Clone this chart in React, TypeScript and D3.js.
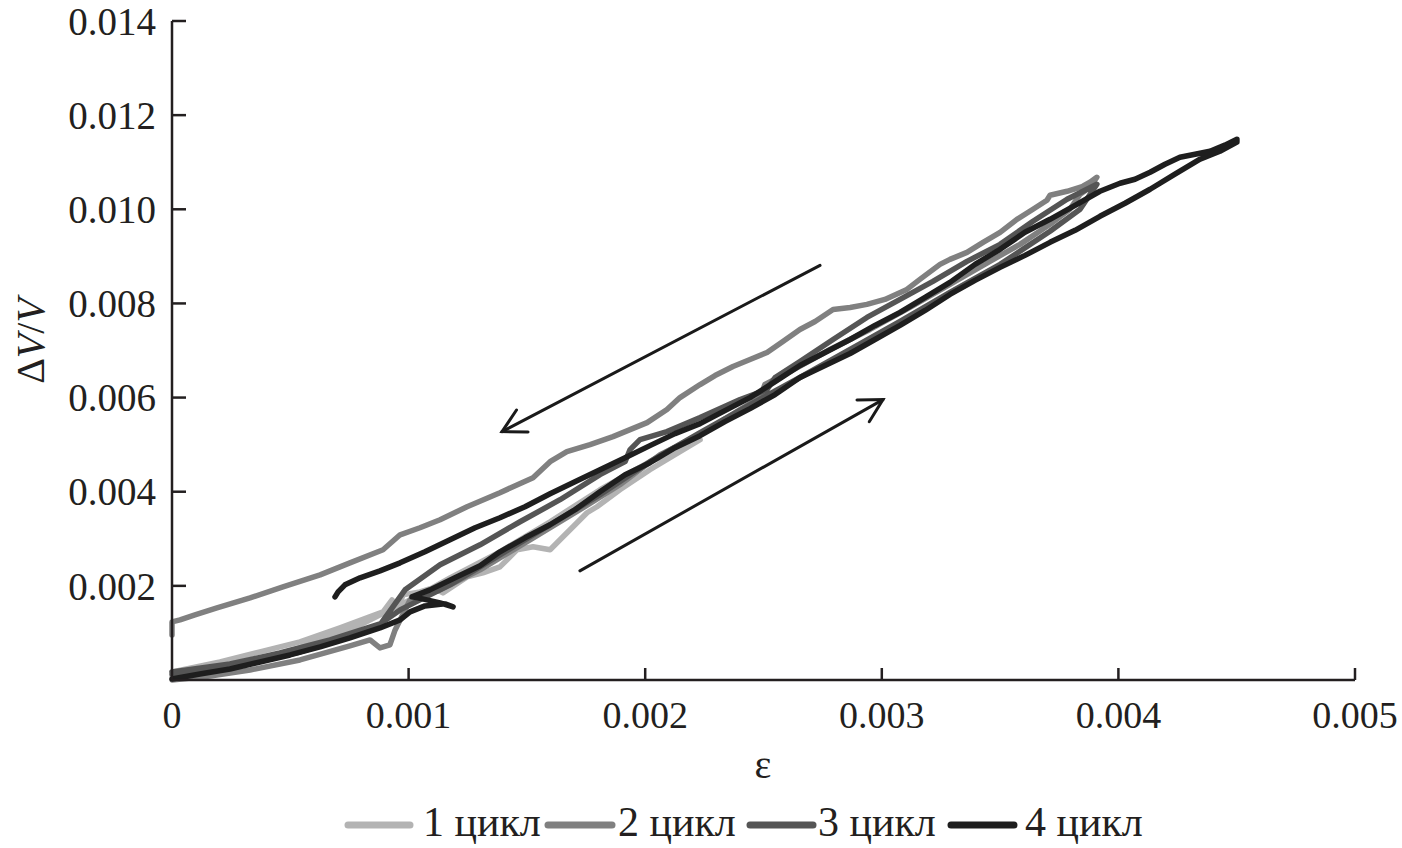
import React from "react";
import * as d3 from "d3";

// All values in units of 10^-3: [ε, ΔV/V]
const cycle1: [number, number][] = [
  [0, 0.17], [0.203, 0.383], [0.372, 0.596], [0.541, 0.809], [0.71, 1.106], [0.892, 1.447],
  [0.93, 1.702], [0.955, 1.489], [0.976, 1.809], [1.048, 1.872], [1.103, 1.957], [1.145, 1.851],
  [1.247, 2.191], [1.314, 2.277], [1.386, 2.404], [1.458, 2.766], [1.526, 2.83], [1.598, 2.766],
  [1.64, 2.979], [1.695, 3.255], [1.754, 3.553], [1.796, 3.681], [1.893, 4.043], [2.02, 4.468],
  [2.147, 4.851], [2.232, 5.106],
  [2.189, 5.0], [2.02, 4.638], [1.809, 4.043], [1.598, 3.362], [1.386, 2.723], [1.175, 2.17],
  [1.048, 1.809], [0.964, 1.596], [0.752, 1.064], [0.541, 0.681], [0.33, 0.383], [0.118, 0.17], [0, 0.085],
];

const cycle2: [number, number][] = [
  [0, 0], [0.161, 0.085], [0.33, 0.213], [0.541, 0.426], [0.752, 0.723], [0.837, 0.851],
  [0.879, 0.681], [0.921, 0.745], [0.943, 1.064], [0.985, 1.489], [1.006, 1.702], [1.133, 1.915],
  [1.302, 2.34], [1.513, 2.979], [1.724, 3.617], [1.893, 4.149], [2.063, 4.787], [2.232, 5.213],
  [2.401, 5.745], [2.485, 6.0], [2.506, 6.277], [2.612, 6.553], [2.781, 7.021], [2.95, 7.447],
  [3.119, 7.915], [3.288, 8.404], [3.457, 8.894], [3.584, 9.255], [3.711, 9.681], [3.795, 10.0],
  [3.838, 10.319], [3.88, 10.468], [3.909, 10.681],
  [3.88, 10.574], [3.85, 10.489], [3.783, 10.383], [3.711, 10.298], [3.698, 10.191], [3.639, 10.0],
  [3.571, 9.787], [3.5, 9.511], [3.428, 9.298], [3.36, 9.085], [3.288, 8.936], [3.246, 8.83],
  [3.161, 8.511], [3.106, 8.298], [3.013, 8.085], [2.937, 7.979], [2.866, 7.915], [2.794, 7.872],
  [2.718, 7.617], [2.654, 7.447], [2.582, 7.191], [2.515, 6.957], [2.443, 6.809], [2.371, 6.66],
  [2.295, 6.468], [2.232, 6.277], [2.147, 6.0], [2.092, 5.745], [2.008, 5.468], [1.936, 5.319],
  [1.864, 5.17], [1.767, 5.0], [1.669, 4.851], [1.598, 4.638], [1.526, 4.298], [1.386, 3.979],
  [1.247, 3.681], [1.133, 3.404], [1.048, 3.234], [0.964, 3.085], [0.892, 2.766], [0.752, 2.489],
  [0.626, 2.234], [0.469, 1.979], [0.33, 1.745], [0.19, 1.532], [0.097, 1.383], [0.034, 1.277],
  [0, 1.234], [0, 0.957],
];

const cycle3: [number, number][] = [
  [0, 0.17], [0.245, 0.34], [0.456, 0.574], [0.668, 0.851], [0.879, 1.191], [0.964, 1.489],
  [1.048, 1.702], [1.175, 2.021], [1.386, 2.66], [1.598, 3.298], [1.809, 3.936], [2.02, 4.638],
  [2.232, 5.255], [2.443, 5.851], [2.654, 6.426], [2.866, 7.021], [3.077, 7.617], [3.288, 8.234],
  [3.5, 8.83], [3.711, 9.532], [3.838, 10.0], [3.909, 10.532],
  [3.783, 10.213], [3.639, 9.745], [3.5, 9.255], [3.36, 8.894], [3.216, 8.468], [3.077, 8.085],
  [2.937, 7.702], [2.794, 7.234], [2.654, 6.766], [2.549, 6.426], [2.515, 6.17], [2.401, 5.957],
  [2.232, 5.574], [2.092, 5.277], [1.978, 5.106], [1.936, 4.894], [1.915, 4.638], [1.809, 4.362],
  [1.64, 3.83], [1.471, 3.362], [1.302, 2.872], [1.133, 2.447], [0.985, 1.915], [0.879, 1.17],
  [0.71, 0.851], [0.541, 0.596], [0.33, 0.362], [0.118, 0.17], [0, 0.128],
];

const cycle4: [number, number][] = [
  [0, 0.02], [0.118, 0.128], [0.245, 0.234], [0.372, 0.383], [0.499, 0.532], [0.626, 0.702],
  [0.752, 0.894], [0.879, 1.106], [0.964, 1.277], [1.006, 1.447], [1.069, 1.574], [1.154, 1.617],
  [1.188, 1.553], [1.133, 1.638], [1.04, 1.745], [1.014, 1.766], [1.09, 1.915], [1.196, 2.17],
  [1.302, 2.426], [1.386, 2.723], [1.492, 3.021], [1.598, 3.298], [1.703, 3.617], [1.809, 4.0],
  [1.915, 4.362], [2.02, 4.617], [2.126, 4.936], [2.232, 5.191], [2.337, 5.489], [2.443, 5.766],
  [2.549, 6.064], [2.654, 6.426], [2.76, 6.681], [2.866, 6.936], [2.971, 7.234], [3.077, 7.532],
  [3.183, 7.851], [3.288, 8.191], [3.394, 8.489], [3.5, 8.766], [3.605, 9.021], [3.711, 9.298],
  [3.817, 9.553], [3.922, 9.851], [4.028, 10.128], [4.134, 10.426], [4.239, 10.745], [4.345, 11.064],
  [4.429, 11.234], [4.501, 11.426],
  [4.501, 11.489], [4.45, 11.362], [4.387, 11.234], [4.324, 11.17], [4.26, 11.106], [4.197, 10.957],
  [4.134, 10.787], [4.07, 10.638], [4.007, 10.553], [3.922, 10.383], [3.817, 10.085], [3.711, 9.787],
  [3.605, 9.511], [3.5, 9.149], [3.394, 8.83], [3.288, 8.447], [3.183, 8.128], [3.077, 7.809],
  [2.971, 7.532], [2.866, 7.234], [2.76, 6.957], [2.654, 6.681], [2.549, 6.34], [2.443, 6.0],
  [2.337, 5.723], [2.232, 5.447], [2.126, 5.234], [2.02, 4.979], [1.915, 4.723], [1.809, 4.468],
  [1.703, 4.213], [1.598, 3.957], [1.492, 3.681], [1.386, 3.447], [1.281, 3.234], [1.175, 2.979],
  [1.069, 2.723], [0.964, 2.489], [0.879, 2.319], [0.795, 2.17], [0.731, 2.021], [0.702, 1.872],
  [0.689, 1.766],
];

const seriesNames = ["1 цикл", "2 цикл", "3 цикл", "4 цикл"];
const seriesColors = ["#b3b3b3", "#808080", "#555555", "#1e1e1e"];
const seriesData = [cycle1, cycle2, cycle3, cycle4];

const xTicks = [0, 1, 2, 3, 4, 5];
const xTickLabels = ["0", "0.001", "0.002", "0.003", "0.004", "0.005"];
const yTicks = [2, 4, 6, 8, 10, 12, 14];
const yTickLabels = ["0.002", "0.004", "0.006", "0.008", "0.010", "0.012", "0.014"];

// arrows: [start, end] in data units (×10^-3)
const arrowUnload: [number, number][] = [[2.739, 8.809], [1.395, 5.277]];
const arrowLoad: [number, number][] = [[1.724, 2.319], [3.005, 5.957]];

const W = 1402;
const H = 848;
const left = 172;
const right = 1355;
const top = 21;
const bottom = 680;
const ink = "#231f20";
const font = "'Liberation Serif', 'Times New Roman', serif";

export default function App() {
  const x = d3.scaleLinear().domain([0, 5]).range([left, right]);
  const y = d3.scaleLinear().domain([0, 14]).range([bottom, top]);
  const line = d3
    .line<[number, number]>()
    .x((d) => x(d[0]))
    .y((d) => y(d[1]));

  const arrow = (a: [number, number][], key: string) => {
    const [s, e] = a;
    const x1 = x(s[0]), y1 = y(s[1]), x2 = x(e[0]), y2 = y(e[1]);
    const ang = Math.atan2(y2 - y1, x2 - x1);
    const hl = 26, spread = 0.5;
    const p1 = [x2 - hl * Math.cos(ang - spread), y2 - hl * Math.sin(ang - spread)];
    const p2 = [x2 - hl * Math.cos(ang + spread), y2 - hl * Math.sin(ang + spread)];
    return (
      <g key={key} stroke="#1a1a1a" strokeWidth={3} fill="none" strokeLinecap="round">
        <line x1={x1} y1={y1} x2={x2} y2={y2} />
        <polyline points={`${p1[0]},${p1[1]} ${x2},${y2} ${p2[0]},${p2[1]}`} strokeLinejoin="miter" />
      </g>
    );
  };

  const legendItems = [
    { sx: 345, ex: 413, tx: 423 },
    { sx: 545, ex: 615, tx: 618 },
    { sx: 747, ex: 816, tx: 818 },
    { sx: 948, ex: 1017, tx: 1025 },
  ];

  return (
    <svg
      width={W}
      height={H}
      style={{ position: "absolute", left: 0, top: 0, background: "#fff" }}
      fontFamily={font}
    >
      <rect width={W} height={H} fill="#fff" />
      {seriesData.map((d, i) => (
        <path
          key={i}
          d={line(d) || ""}
          fill="none"
          stroke={seriesColors[i]}
          strokeWidth={5.5}
          strokeLinejoin="round"
          strokeLinecap="round"
        />
      ))}
      <line x1={left} y1={top} x2={left} y2={bottom} stroke={ink} strokeWidth={2.5} />
      <line x1={left} y1={bottom} x2={right} y2={bottom} stroke={ink} strokeWidth={2.5} />
      {yTicks.map((t, i) => (
        <g key={"y" + t}>
          <line x1={left} x2={left + 14} y1={y(t)} y2={y(t)} stroke={ink} strokeWidth={2.5} />
          <text x={156} y={y(t)} dy="0.35em" textAnchor="end" fontSize={39} fill={ink}>
            {yTickLabels[i]}
          </text>
        </g>
      ))}
      {xTicks.map((t, i) => (
        <g key={"x" + t}>
          {t > 0 && (
            <line x1={x(t)} x2={x(t)} y1={bottom} y2={bottom - 12} stroke={ink} strokeWidth={2.5} />
          )}
          <text x={x(t)} y={728} textAnchor="middle" fontSize={38} fill={ink}>
            {xTickLabels[i]}
          </text>
        </g>
      ))}
      <text x={763} y={778} textAnchor="middle" fontSize={40} fill={ink}>
        ε
      </text>
      <text
        transform={`translate(44, 341) rotate(-90)`}
        textAnchor="middle"
        fontSize={40}
        fill={ink}
      >
        Δ<tspan fontStyle="italic">V</tspan>/<tspan fontStyle="italic">V</tspan>
      </text>
      {arrow(arrowUnload, "a1")}
      {arrow(arrowLoad, "a2")}
      {legendItems.map((it, i) => (
        <g key={"lg" + i}>
          <line
            x1={it.sx + 3}
            x2={it.ex - 3}
            y1={825}
            y2={825}
            stroke={seriesColors[i]}
            strokeWidth={7}
            strokeLinecap="round"
          />
          <text x={it.tx} y={836} fontSize={42} fill={ink}>
            {seriesNames[i]}
          </text>
        </g>
      ))}
    </svg>
  );
}
